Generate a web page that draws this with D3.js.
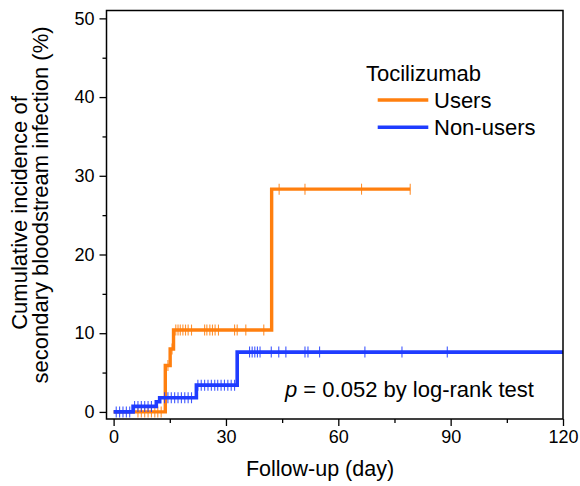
<!DOCTYPE html>
<html><head><meta charset="utf-8">
<script src="https://cdn.jsdelivr.net/npm/d3@7"></script>
<style>body{margin:0;background:#fff}svg{display:block}text{font-family:Arial,"Liberation Sans",sans-serif;fill:#000}</style>
</head><body>
<svg id="c" width="580" height="486"></svg>
<script>
// ---- data ----
const usersTimes = [0, 13.8, 15.1, 16.0, 42.2];
const usersCum   = [0, 5.9, 8.0, 10.4, 28.3];
const usersEnd   = 79.2;
const usersCensor = [6.5, 7.4, 8.3, 9.2, 10.1, 11.0, 11.8, 12.7, 14.5, 15.6, 16.6, 17.2, 17.8, 18.5, 19.2, 19.9, 20.8, 24.3, 24.9, 25.7, 26.4, 27.1, 28.0, 32.3, 33.0, 35.3, 40.1, 44.2, 51.1, 66.2, 79.2];

const nonUsersTimes = [0, 5.2, 11.4, 12.3, 22.1, 33.0];
const nonUsersCum   = [0, 0.7, 1.3, 1.8, 3.4, 7.6];
const nonUsersEnd   = 120;
const nonUsersCensor = [0.7, 1.6, 2.5, 3.4, 4.3, 5.6, 6.5, 7.4, 8.3, 9.2, 10.1, 13.6, 14.5, 15.4, 16.3, 17.2, 18.1, 19.0, 19.9, 20.8, 22.5, 23.4, 24.3, 25.2, 26.1, 27.0, 27.8, 28.7, 29.6, 30.5, 31.4, 32.3, 36.3, 37.0, 37.7, 38.4, 39.1, 42.1, 44.1, 46.0, 51.1, 51.9, 55.0, 67.1, 77.0, 89.1];

const xTicks = [0, 30, 60, 90, 120];
const xMinor = [15, 45, 75, 105];
const yTicks = [0, 10, 20, 30, 40, 50];
const yMinor = [5, 15, 25, 35, 45];
const legendTitle = "Tocilizumab";
const seriesNames = ["Users", "Non-users"];
const colors = ["#ff7f0e", "#1f3cff"];

// ---- chart ----
const svg = d3.select("#c");
const x = d3.scaleLinear().domain([-1.9, 120]).range([106.5, 563]);
const y = d3.scaleLinear().domain([-0.9, 51]).range([419, 10.5]);

function stepPts(times, cum, end){
  const pts = [];
  times.forEach((t,i)=>{ if(i>0) pts.push([t, cum[i-1]]); pts.push([t, cum[i]]); });
  pts.push([end, cum[cum.length-1]]);
  return pts;
}
function levelAt(times, cum, t){
  let v = cum[0];
  times.forEach((tt,i)=>{ if(tt<=t) v = cum[i]; });
  return v;
}
const line = d3.line().x(d=>x(d[0])).y(d=>y(d[1]));

const series = [
  {times: usersTimes, cum: usersCum, end: usersEnd, censor: usersCensor, color: colors[0], w: 3.4},
  {times: nonUsersTimes, cum: nonUsersCum, end: nonUsersEnd, censor: nonUsersCensor, color: colors[1], w: 3.6}
];
series.forEach(s=>{
  svg.append("path").attr("d", line(stepPts(s.times, s.cum, s.end)))
    .attr("fill","none").attr("stroke", s.color).attr("stroke-width", s.w)
    .attr("stroke-linejoin","miter");
  svg.append("g").selectAll("line").data(s.censor).join("line")
    .attr("x1", d=>x(d)).attr("x2", d=>x(d))
    .attr("y1", d=>y(levelAt(s.times, s.cum, d))-5.5)
    .attr("y2", d=>y(levelAt(s.times, s.cum, d))+5.5)
    .attr("stroke", s.color).attr("stroke-width", 1.1).attr("opacity", 0.85);
});

// frame
svg.append("rect").attr("x", x.range()[0]).attr("y", y.range()[1])
  .attr("width", x.range()[1]-x.range()[0]).attr("height", y.range()[0]-y.range()[1])
  .attr("fill","none").attr("stroke","#000").attr("stroke-width",1.5);

// axes
svg.append("g").attr("transform", `translate(0,${y.range()[0]})`)
  .call(d3.axisBottom(x).tickValues(xTicks).tickSize(7).tickPadding(4).tickFormat(d3.format("d")));
svg.append("g").attr("transform", `translate(0,${y.range()[0]})`)
  .call(d3.axisBottom(x).tickValues(xMinor).tickSize(4).tickFormat(""));
svg.append("g").attr("transform", `translate(${x.range()[0]},0)`)
  .call(d3.axisLeft(y).tickValues(yTicks).tickSize(7).tickPadding(5).tickFormat(d3.format("d")));
svg.append("g").attr("transform", `translate(${x.range()[0]},0)`)
  .call(d3.axisLeft(y).tickValues(yMinor).tickSize(4).tickFormat(""));
svg.selectAll(".domain").remove();
svg.selectAll(".tick line").attr("stroke","#000").attr("stroke-width",1.3);
svg.selectAll(".tick text").attr("font-size","18px").attr("font-family",'Arial,"Liberation Sans",sans-serif').attr("fill","#000");

// axis titles
svg.append("text").attr("x", 320).attr("y", 476).attr("text-anchor","middle")
  .attr("font-size","21.5px").text("Follow-up (day)");
svg.append("text").attr("transform","translate(27,213) rotate(-90)").attr("text-anchor","middle")
  .attr("font-size","22px").text("Cumulative incidence of");
svg.append("text").attr("transform","translate(48,205) rotate(-90)").attr("text-anchor","middle")
  .attr("font-size","22px").text("secondary bloodstream infection (%)");

// legend
svg.append("text").attr("x", 366).attr("y", 81).attr("font-size","22px").text(legendTitle);
const legY = [100, 127.3];
seriesNames.forEach((n,i)=>{
  svg.append("line").attr("x1",377.7).attr("x2",428.3).attr("y1",legY[i]).attr("y2",legY[i])
    .attr("stroke", colors[i]).attr("stroke-width",3.4);
  svg.append("text").attr("x",434).attr("y",legY[i]+7.5).attr("font-size","22px").text(n);
});

// p value annotation
const pt = svg.append("text").attr("x",285).attr("y",397).attr("font-size","22px");
pt.append("tspan").attr("font-style","italic").text("p");
pt.append("tspan").text(" = 0.052 by log-rank test");
</script>
</body></html>
